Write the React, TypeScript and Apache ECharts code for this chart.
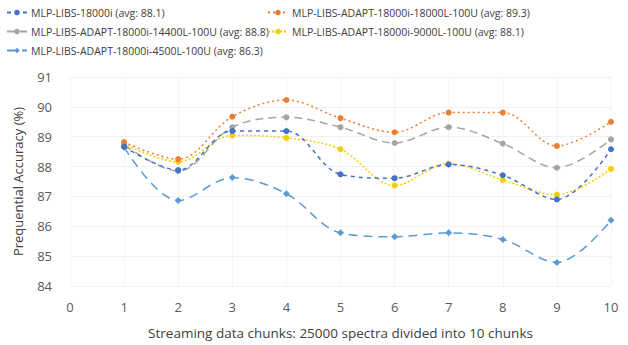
import React, { useEffect, useRef } from "react";
import * as echarts from "echarts";

const chunks = [1, 2, 3, 4, 5, 6, 7, 8, 9, 10];
const xTicks = [0, 1, 2, 3, 4, 5, 6, 7, 8, 9, 10];
const yTicks = [84, 85, 86, 87, 88, 89, 90, 91];

const seriesNames = [
  "MLP-LIBS-18000i (avg: 88.1)",
  "MLP-LIBS-ADAPT-18000i-18000L-100U (avg: 89.3)",
  "MLP-LIBS-ADAPT-18000i-14400L-100U (avg: 88.8)",
  "MLP-LIBS-ADAPT-18000i-9000L-100U (avg: 88.1)",
  "MLP-LIBS-ADAPT-18000i-4500L-100U (avg: 86.3)",
];

const mlp18000i = [88.67, 87.88, 89.19, 89.19, 87.74, 87.61, 88.07, 87.71, 86.9, 88.58];
const adapt18000L = [88.82, 88.25, 89.67, 90.23, 89.62, 89.15, 89.81, 89.81, 88.69, 89.5];
const adapt14400L = [88.72, 87.85, 89.32, 89.65, 89.32, 88.79, 89.32, 88.77, 87.96, 88.91];
const adapt9000L = [88.76, 88.16, 89.04, 88.96, 88.58, 87.37, 88.1, 87.55, 87.06, 87.92];
const adapt4500L = [88.65, 86.86, 87.63, 87.09, 85.78, 85.65, 85.78, 85.56, 84.79, 86.2];

const allValues = [mlp18000i, adapt18000L, adapt14400L, adapt9000L, adapt4500L];
const colors = ["#4472C4", "#ED7D31", "#A5A5A5", "#F2D000", "#5B9BD5"];
const dashes: any[] = [[4, 4], [2, 3], [8, 5], [2, 2], [9, 6]];
const symbols = ["circle", "circle", "circle", "circle", "diamond"];

const legendPos = [
  { left: 6, top: 7 },
  { left: 267, top: 7 },
  { left: 6, top: 26 },
  { left: 267, top: 26 },
  { left: 6, top: 45 },
];

export default function App() {
  const ref = useRef<HTMLDivElement>(null);
  useEffect(() => {
    if (!ref.current) return;
    const chart = echarts.init(ref.current, undefined, { renderer: "svg" });
    const font = "Open Sans, sans-serif";
    chart.setOption({
      animation: false,
      backgroundColor: "#ffffff",
      textStyle: { fontFamily: font },
      legend: seriesNames.map((n, i) => ({
        data: [n],
        left: legendPos[i].left,
        top: legendPos[i].top,
        padding: 0,
        itemWidth: 20,
        itemHeight: 7,
        itemGap: 4,
        textStyle: { fontSize: 10.5, color: "#404040", fontFamily: font, padding: [0, 0, 0, -1] },
      })),
      grid: { left: 70, right: 17, top: 77, bottom: 57 },
      xAxis: {
        type: "value",
        min: 0,
        max: 10,
        interval: 1,
        name: "Streaming data chunks: 25000 spectra divided into 10 chunks",
        nameLocation: "middle",
        nameGap: 40,
        nameTextStyle: { fontSize: 13.5, color: "#404040", fontFamily: font },
        axisLine: { show: false },
        axisTick: { show: false },
        axisLabel: {
          fontSize: 13,
          color: "#595959",
          margin: 14,
          formatter: (v: number) => (xTicks.includes(v) ? String(v) : ""),
        },
        splitLine: { show: true, lineStyle: { color: "#f4f4f4" } },
      },
      yAxis: {
        type: "value",
        min: yTicks[0],
        max: yTicks[yTicks.length - 1],
        interval: 1,
        name: "Prequential Accuracy (%)",
        nameLocation: "middle",
        nameGap: 46,
        nameTextStyle: { fontSize: 13, color: "#404040", fontFamily: font },
        axisLine: { show: false },
        axisTick: { show: false },
        axisLabel: { fontSize: 13, color: "#595959", margin: 18 },
        splitLine: { show: true, lineStyle: { color: "#f0f0f0" } },
      },
      series: allValues.map((vals, i) => ({
        name: seriesNames[i],
        type: "line",
        smooth: 0.35,
        data: vals.map((v, j) => [chunks[j], v]),
        symbol: symbols[i],
        symbolSize: i === 4 ? 7 : 6,
        itemStyle: { color: colors[i] },
        lineStyle: { color: colors[i], width: 1.5, type: dashes[i] },
        z: 10 - i,
      })),
    });
    return () => chart.dispose();
  }, []);
  return (
    <div
      ref={ref}
      style={{ position: "fixed", left: 0, top: 0, width: 628, height: 345 }}
    />
  );
}
